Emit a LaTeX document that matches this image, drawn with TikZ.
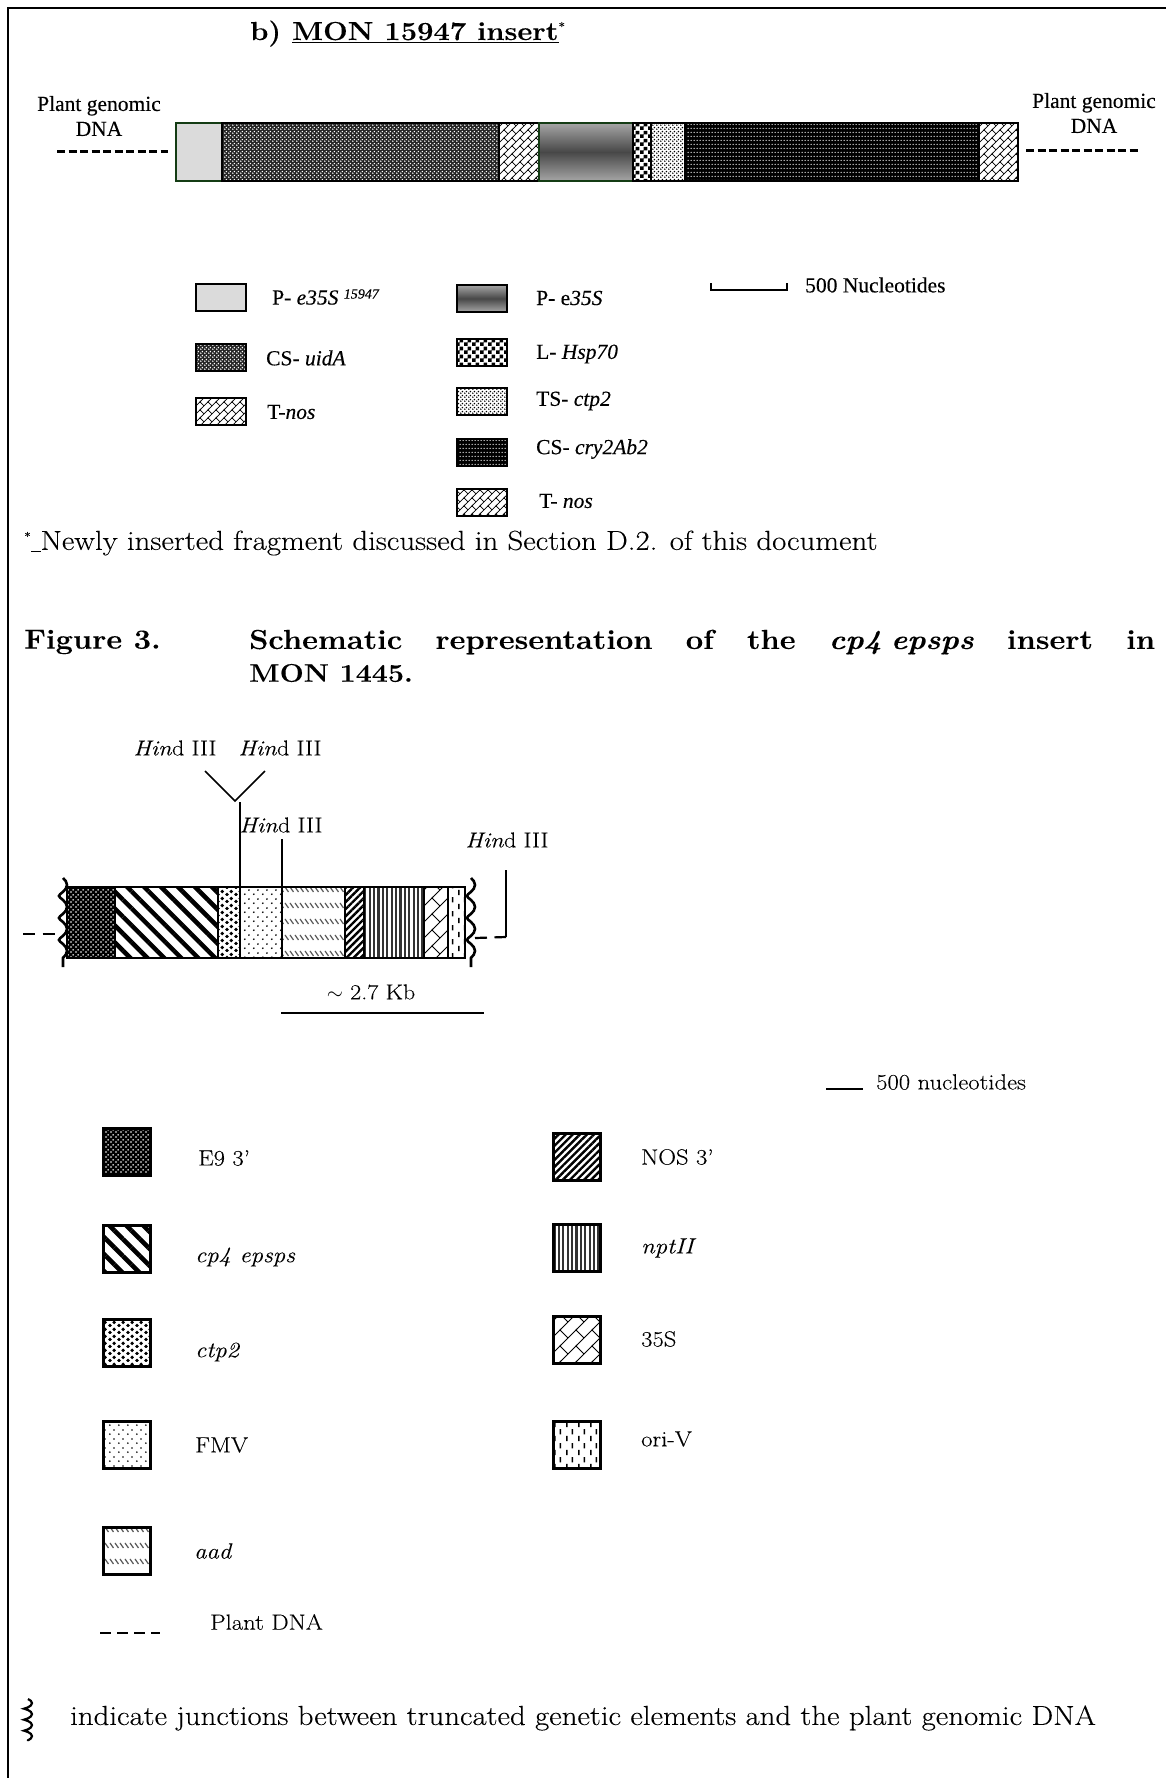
\documentclass[tikz,border=0pt]{standalone}
\usepackage{fontspec}
\newfontfamily\timesfont[FakeBold=0.25]{Liberation Serif}
\setmainfont[FakeStretch=1.12,FakeBold=0.15]{Latin Modern Roman}
\usepackage{xcolor}
\usepackage{tikz}
\usetikzlibrary{positioning, patterns, patterns.meta, decorations.pathmorphing}
\definecolor{edgegreen}{RGB}{20, 60, 20}

\pgfdeclarepatternformonly{wallfine}{\pgfqpoint{-1pt}{-1pt}}{\pgfqpoint{9pt}{9pt}}{\pgfqpoint{8pt}{8pt}}{
  \pgfsetlinewidth{.7pt}
  \pgfpathmoveto{\pgfqpoint{-1pt}{-1pt}}\pgfpathlineto{\pgfqpoint{9pt}{9pt}}
  \pgfpathmoveto{\pgfqpoint{0pt}{8pt}}\pgfpathlineto{\pgfqpoint{4pt}{4pt}}
  \pgfusepath{stroke}}
\pgfdeclarepatternformonly{wallwide}{\pgfqpoint{-1pt}{-1pt}}{\pgfqpoint{17pt}{17pt}}{\pgfqpoint{16pt}{16pt}}{
  \pgfsetlinewidth{1pt}
  \pgfpathmoveto{\pgfqpoint{-1pt}{-1pt}}\pgfpathlineto{\pgfqpoint{17pt}{17pt}}
  \pgfpathmoveto{\pgfqpoint{0pt}{16pt}}\pgfpathlineto{\pgfqpoint{8pt}{8pt}}
  \pgfusepath{stroke}}
\pgfdeclarepatternformonly{chequers}{\pgfpointorigin}{\pgfqpoint{8pt}{8pt}}{\pgfqpoint{8pt}{8pt}}{
  \pgfpathrectangle{\pgfpointorigin}{\pgfqpoint{4pt}{4pt}}
  \pgfpathrectangle{\pgfqpoint{4pt}{4pt}}{\pgfqpoint{4pt}{4pt}}
  \pgfusepath{fill}}
\pgfdeclarepatternformonly{staggerbig}{\pgfpointorigin}{\pgfqpoint{9pt}{6.5pt}}{\pgfqpoint{9pt}{6.5pt}}{
  \pgfpathcircle{\pgfqpoint{2.2pt}{1.6pt}}{2pt}
  \pgfpathcircle{\pgfqpoint{6.7pt}{4.9pt}}{2pt}
  \pgfusepath{fill}}
\pgfdeclarepatternformonly{staggersmall}{\pgfpointorigin}{\pgfqpoint{9pt}{9pt}}{\pgfqpoint{9pt}{9pt}}{
  \pgfpathcircle{\pgfqpoint{2pt}{2pt}}{1pt}
  \pgfpathcircle{\pgfqpoint{6.5pt}{6.5pt}}{1pt}
  \pgfusepath{fill}}
\pgfdeclarepatternformonly{staggerfine}{\pgfpointorigin}{\pgfqpoint{4pt}{4pt}}{\pgfqpoint{4pt}{4pt}}{
  \pgfpathcircle{\pgfqpoint{1pt}{1pt}}{1pt}
  \pgfpathcircle{\pgfqpoint{3pt}{3pt}}{1pt}
  \pgfusepath{fill}}
\pgfdeclarepatternformonly{rowdots}{\pgfpointorigin}{\pgfqpoint{3pt}{4pt}}{\pgfqpoint{3pt}{4pt}}{
  \pgfpathcircle{\pgfqpoint{1.5pt}{2pt}}{.85pt}
  \pgfusepath{fill}}
\pgfdeclarepatternformonly{gridfine}{\pgfpointorigin}{\pgfqpoint{5pt}{5pt}}{\pgfqpoint{5pt}{5pt}}{
  \pgfpathcircle{\pgfqpoint{1.2pt}{1.2pt}}{.95pt}
  \pgfpathcircle{\pgfqpoint{3.7pt}{3.7pt}}{.95pt}
  \pgfusepath{fill}}
\pgfdeclarepatternformonly{gridmid}{\pgfpointorigin}{\pgfqpoint{4pt}{4pt}}{\pgfqpoint{4pt}{4pt}}{
  \pgfpathcircle{\pgfqpoint{1pt}{1pt}}{.95pt}
  \pgfpathcircle{\pgfqpoint{3pt}{3pt}}{.95pt}
  \pgfusepath{fill}}
\pgfdeclarepatternformonly{rowdashes}{\pgfqpoint{-1pt}{0pt}}{\pgfqpoint{6pt}{16pt}}{\pgfqpoint{5pt}{16pt}}{
  \pgfsetlinewidth{1.2pt}
  \pgfpathmoveto{\pgfqpoint{0pt}{11pt}}\pgfpathlineto{\pgfqpoint{3.5pt}{6pt}}
  \pgfusepath{stroke}}
\pgfdeclarepatternformonly{vertdashes}{\pgfpointorigin}{\pgfqpoint{12pt}{14pt}}{\pgfqpoint{12pt}{14pt}}{
  \pgfsetlinewidth{1.6pt}
  \pgfpathmoveto{\pgfqpoint{3pt}{1pt}}\pgfpathlineto{\pgfqpoint{3pt}{6.5pt}}
  \pgfpathmoveto{\pgfqpoint{9pt}{8pt}}\pgfpathlineto{\pgfqpoint{9pt}{13.5pt}}
  \pgfusepath{stroke}}

\begin{document}
\begin{tikzpicture}[x=1pt, y=-1pt,
  seg/.style={rectangle, draw=black, line width=2pt, inner sep=0pt, outer sep=0pt,
    minimum height=58pt},
  gseg/.style={rectangle, draw=black, line width=2.4pt, inner sep=0pt, outer sep=0pt,
    minimum height=71pt},
  keybox/.style={rectangle, draw=black, line width=2.6pt, inner sep=0pt, outer sep=0pt,
    minimum width=50pt, minimum height=27pt},
  genebox/.style={rectangle, draw=black, line width=3pt, inner sep=0pt, outer sep=0pt,
    minimum width=47pt, minimum height=47pt},
  onwhite/.style={preaction={fill=white}, pattern color=black},
  onblack/.style={preaction={fill=black}, pattern color=white},
  fplain/.style={fill=gray!28},
  fgrad/.style={top color=gray!70, bottom color=gray!70, middle color=black!72},
  fuida/.style={preaction={fill=black!85}, pattern=gridmid, pattern color=white},
  fnos/.style={onwhite, pattern=wallfine},
  fhsp/.style={onwhite, pattern=chequers},
  fts/.style={onwhite, pattern=staggerfine},
  fcry/.style={onblack, pattern=rowdots, pattern color=white},
  fenine/.style={onblack, pattern=gridfine, pattern color=white},
  fepsps/.style={onwhite, pattern={Lines[angle=-45, distance=12pt, line width=4.5pt]}},
  fctp/.style={onwhite, pattern=staggerbig},
  ffmv/.style={onwhite, pattern=staggersmall},
  faad/.style={onwhite, pattern=rowdashes, pattern color=gray!70!black},
  fnosthree/.style={onwhite, pattern={Lines[angle=45, distance=5pt, line width=2.4pt]}},
  fnpt/.style={onwhite, pattern={Lines[angle=90, distance=4.4pt, line width=2.2pt]}, pattern color=black!80},
  fbrick/.style={onwhite, pattern=wallwide},
  fori/.style={onwhite, pattern=vertdashes},
  plantdash/.style={line width=3pt, dash pattern=on 8pt off 3.5pt},
  plantdashb/.style={line width=2.2pt, dash pattern=on 12pt off 7.5pt},
  site/.style={line width=1.5pt},
  junction/.style={decorate, decoration={coil, aspect=.35, amplitude=4pt, segment length=22pt},
    line width=2.6pt},
  junctionkey/.style={decorate, decoration={coil, aspect=.35, amplitude=4pt, segment length=11pt},
    line width=2.2pt},
  topkey/.style={anchor=west, inner sep=0pt, font=\timesfont\fontsize{21.5}{23}\selectfont},
  topdna/.style={align=center, inner sep=0pt, font=\timesfont\fontsize{21.5}{25}\selectfont},
  key/.style={anchor=west, inner sep=0pt, font=\fontsize{22}{24}\selectfont},
  hindlab/.style={inner sep=0pt, font=\fontsize{21.5}{24}\selectfont},
  body/.style={anchor=west, inner sep=0pt, font=\fontsize{27.5}{30}\selectfont},
  head/.style={anchor=west, inner sep=0pt, font=\bfseries\fontsize{27.5}{30}\selectfont}
]
  \useasboundingbox (0,0) rectangle (1166,1778);
  \draw[line width=2.2pt] (8,1778) -- (8,8) -- (1166,8);

  % MON 15947 part
  \node[anchor=base west, inner sep=0pt, font=\bfseries\fontsize{26}{30}\selectfont] (insertb)
    at (250,40) {b) \underline{MON 15947 insert}\textsuperscript{\normalfont\fontsize{12}{12}\selectfont *}};

  \node[seg, fplain, draw=edgegreen, minimum width=46pt, anchor=west] (pnew) at (176,152) {};
  \node[seg, fuida, minimum width=277pt, right=0pt of pnew] (uida) {};
  \node[seg, fnos, minimum width=40pt, right=0pt of uida] (tnos) {};
  \node[seg, fgrad, draw=edgegreen, minimum width=94pt, right=0pt of tnos] (pold) {};
  \node[seg, fhsp, minimum width=18pt, right=0pt of pold] (hsp) {};
  \node[seg, fts, minimum width=34pt, right=0pt of hsp] (ctpb) {};
  \node[seg, fcry, minimum width=294pt, right=0pt of ctpb] (cry) {};
  \node[seg, fnos, minimum width=39pt, right=0pt of cry] (tnosb) {};

  \node[topdna] (dnal) at (99,116) {Plant genomic\\DNA};
  \node[topdna] (dnar) at (1094,113) {Plant genomic\\DNA};
  \coordinate (dashla) at (57,151);
  \coordinate (dashlb) at (168,151);
  \coordinate (dashra) at (1026,150);
  \coordinate (dashrb) at (1138,150);
  \draw[plantdash] (dashla) -- (dashlb);
  \draw[plantdash] (dashra) -- (dashrb);

  \node[keybox, fplain, anchor=north west] (keypnew) at (196,284) {};
  \node[keybox, fuida, below=33pt of keypnew] (keyuida) {};
  \node[keybox, fnos, below=27pt of keyuida] (keytnos) {};
  \node[topkey] at (272,297) (labpnew) {P- \textit{e35S} \raisebox{6pt}{\textit{\fontsize{14}{14}\selectfont 15947}}};
  \node[topkey] at (266,358) (labuida) {CS- \textit{uidA}};
  \node[topkey] at (267,412) (labtnos) {T-\textit{nos}};

  \node[keybox, fgrad, anchor=north west] (keypold) at (457,285) {};
  \node[keybox, fhsp, anchor=north west] (keyhsp) at (457,339) {};
  \node[keybox, fts, anchor=north west] (keyts) at (457,388) {};
  \node[keybox, fcry, anchor=north west] (keycry) at (457,439) {};
  \node[keybox, fnos, anchor=north west] (keytnosb) at (457,489) {};
  \node[topkey] at (536,298) (labpold) {P- e\textit{35S}};
  \node[topkey] at (536,354) (labhsp) {L- \textit{Hsp70}};
  \node[topkey] at (536,401) (labts) {TS- \textit{ctp2}};
  \node[topkey] at (536,449) (labcry) {CS- \textit{cry2Ab2}};
  \node[topkey] at (539,501) (labtnosb) {T- \textit{nos}};

  \coordinate (scalea) at (711,283);
  \coordinate (scaleb) at (787,283);
  \draw[line width=1.8pt] (scalea) -- ++(0,7) -- ++(76,0) -- (scaleb);
  \node[topkey] at (805,285) (labscale) {500 Nucleotides};

  \node[body] at (24,543) (footnote) {\textsuperscript{\fontsize{12}{12}\selectfont *}\underline{\ }Newly inserted fragment discussed in Section D.2. of this document};

  % Figure 3
  \node[head] at (24,642) (figlab) {Figure 3.};
  \node[head, text width=906pt] at (249,642) (figtitle)
    {Schematic\hfill representation\hfill of\hfill the\hfill \textit{cp4 epsps}\hfill insert\hfill in};
  \node[head, font=\bfseries\fontsize{25.5}{30}\selectfont] at (249,673) (figtitleb) {MON 1445.};

  \node[gseg, fenine, minimum width=48pt, anchor=west] (enine) at (67,922.5) {};
  \node[gseg, fepsps, minimum width=103pt, right=0pt of enine] (epsps) {};
  \node[gseg, fctp, minimum width=22pt, right=0pt of epsps] (ctp) {};
  \node[gseg, ffmv, minimum width=42pt, right=0pt of ctp] (fmv) {};
  \node[gseg, faad, minimum width=63pt, right=0pt of fmv] (aad) {};
  \node[gseg, fnosthree, minimum width=19pt, right=0pt of aad] (nosthree) {};
  \node[gseg, fnpt, minimum width=60pt, right=0pt of nosthree] (npt) {};
  \node[gseg, fbrick, minimum width=24pt, right=0pt of npt] (ss) {};
  \node[gseg, fori, minimum width=17pt, right=0pt of ss] (ori) {};

  \node[hindlab] (hinda) at (175,748) {\textit{Hin}d III};
  \node[hindlab] (hindb) at (280,748) {\textit{Hin}d III};
  \node[hindlab] (hindc) at (281,825) {\textit{Hin}d III};
  \node[hindlab] (hindd) at (507,840) {\textit{Hin}d III};

  \coordinate (forka) at (205,771);
  \coordinate (forkb) at (235,801);
  \coordinate (forkc) at (265,771);
  \coordinate (cuta) at (240,802);
  \coordinate (cutb) at (282,839);
  \coordinate (cutc) at (506,870);
  \coordinate (cutd) at (506,937);
  \draw[site] (forka) -- (forkb) -- (forkc);
  \draw[site] (cuta) -- (fmv.north west);
  \draw[site] (cutb) -- (aad.north west);
  \draw[site] (cutc) -- (cutd);

  \coordinate (waveal) at (63,878);
  \coordinate (waveel) at (63,967);
  \coordinate (wavear) at (471,878);
  \coordinate (waveer) at (471,967);
  \coordinate (dashc) at (23,934);
  \coordinate (dashd) at (60,934);
  \coordinate (dashe) at (475,938);
  \draw[plantdashb] (dashc) -- (dashd);
  \draw[plantdashb] (dashe) -- (cutd);
  \draw[junction] (waveal) -- (waveel);
  \draw[junction] (wavear) -- (waveer);

  \node[hindlab] (kb) at (371,992) {$\sim$ 2.7 Kb};
  \coordinate (spana) at (281,1013);
  \coordinate (spanb) at (484,1013);
  \draw[line width=1.8pt] (spana) -- (spanb);

  \coordinate (nuca) at (826,1089);
  \coordinate (nucb) at (863,1089);
  \draw[line width=2.4pt] (nuca) -- (nucb);
  \node[key] at (876,1082) (labnuc) {500 nucleotides};

  \node[genebox, fenine, anchor=north west] (boxenine) at (103,1128) {};
  \node[genebox, fepsps, anchor=north west] (boxepsps) at (103,1225) {};
  \node[genebox, fctp, anchor=north west] (boxctp) at (103,1319) {};
  \node[genebox, ffmv, anchor=north west] (boxfmv) at (103,1421) {};
  \node[genebox, faad, anchor=north west] (boxaad) at (103,1527) {};
  \node[key] at (198,1158) (labenine) {E9 3'};
  \node[key] at (195,1257) (labepsps) {\textit{cp4 epsps}};
  \node[key] at (195,1352) (labctp) {\textit{ctp2}};
  \node[key] at (195,1445) (labfmv) {FMV};
  \node[key] at (194,1551) (labaad) {\textit{aad}};

  \node[genebox, fnosthree, anchor=north west] (boxnosthree) at (553,1133) {};
  \node[genebox, fnpt, anchor=north west] (boxnpt) at (553,1224) {};
  \node[genebox, fbrick, anchor=north west] (boxss) at (553,1316) {};
  \node[genebox, fori, anchor=north west] (boxori) at (553,1421) {};
  \node[key] at (641,1157) (labnosthree) {NOS 3'};
  \node[key] at (641,1248) (labnpt) {\textit{nptII}};
  \node[key] at (641,1339) (labss) {35S};
  \node[key] at (641,1439) (labori) {ori-V};

  \coordinate (keydasha) at (100,1633);
  \coordinate (keydashb) at (160,1633);
  \draw[line width=2.2pt, dash pattern=on 11pt off 6pt] (keydasha) -- (keydashb);
  \node[key] at (210,1622) (labplant) {Plant DNA};

  \coordinate (keywavea) at (28,1699);
  \coordinate (keywaveb) at (28,1741);
  \draw[junctionkey] (keywavea) -- (keywaveb);
  \node[body] at (70,1718) (labjunction) {indicate junctions between truncated genetic elements and the plant genomic DNA};
\end{tikzpicture}
\end{document}
